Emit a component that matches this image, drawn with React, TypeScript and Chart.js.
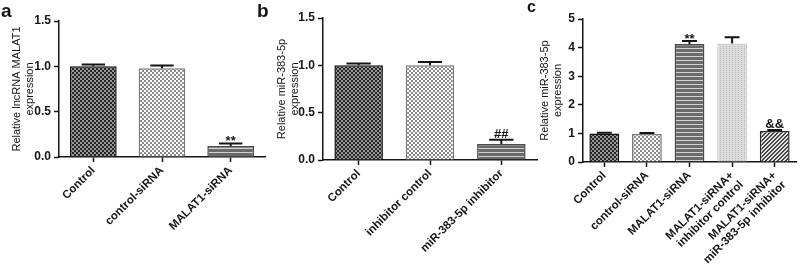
import React, { useEffect, useRef } from 'react';
import { Chart, registerables } from 'chart.js';

Chart.register(...registerables);

// ---------- data ----------
const catsA: (string | string[])[] = ['Control', 'control-siRNA', 'MALAT1-siRNA'];
const valsA = [1.0, 0.98, 0.12];
const errsA = [0.02, 0.03, 0.03];
const marksA = ['', '', '**'];

const catsB: (string | string[])[] = ['Control', 'inhibitor control', 'miR-383-5p inhibitor'];
const valsB = [1.0, 1.0, 0.17];
const errsB = [0.02, 0.035, 0.045];
const marksB = ['', '', '##'];

const catsC: (string | string[])[] = [
  'Control',
  'control-siRNA',
  'MALAT1-siRNA',
  ['MALAT1-siRNA+', 'inhibitor control'],
  ['MALAT1-siRNA+', 'miR-383-5p inhibitor'],
];
const valsC = [1.0, 0.98, 4.13, 4.14, 1.08];
const errsC = [0.02, 0.03, 0.1, 0.22, 0.04];
const marksC = ['', '', '**', '', '&&'];

const ticksAB = [0, 0.5, 1.0, 1.5];
const ticksC = [0, 1, 2, 3, 4, 5];

const titleA = ['Relative lncRNA MALAT1', 'expression'];
const titleB = ['Relative miR-383-5p', 'expression'];
const titleC = ['Relative miR-383-5p', 'expression'];

// ---------- styles ----------
const FONT = '"Liberation Sans", Arial, sans-serif';
const INK = '#151515';

type Kind = 'darkCheck' | 'lightCheck' | 'hStripe' | 'vDot' | 'diag';

function makePattern(kind: Kind): CanvasPattern {
  const c = document.createElement('canvas');
  const g = c.getContext('2d')!;
  if (kind === 'darkCheck') {
    c.width = 4; c.height = 4;
    g.fillStyle = '#969696'; g.fillRect(0, 0, 4, 4);
    g.fillStyle = '#262626'; g.fillRect(0, 0, 2, 2); g.fillRect(2, 2, 2, 2);
  } else if (kind === 'lightCheck') {
    c.width = 4; c.height = 4;
    g.fillStyle = '#ffffff'; g.fillRect(0, 0, 4, 4);
    g.fillStyle = '#8a8a8a'; g.fillRect(0, 0, 2, 2); g.fillRect(2, 2, 2, 2);
  } else if (kind === 'hStripe') {
    c.width = 4; c.height = 4;
    g.fillStyle = '#6a6a6a'; g.fillRect(0, 0, 4, 4);
    g.fillStyle = '#d2d2d2'; g.fillRect(0, 0, 4, 1);
  } else if (kind === 'vDot') {
    c.width = 3; c.height = 2;
    g.fillStyle = '#dcdcdc'; g.fillRect(0, 0, 3, 2);
    g.fillStyle = '#b8b8b8'; g.fillRect(0, 0, 1, 1);
  } else {
    c.width = 4; c.height = 4;
    g.fillStyle = '#e4e4e4'; g.fillRect(0, 0, 4, 4);
    g.fillStyle = '#454545';
    for (let i = 0; i < 4; i++) {
      g.fillRect(i, 3 - i, 1, 1);
      g.fillRect((i + 1) % 4, 3 - i, 1, 1);
    }
  }
  return g.createPattern(c, 'repeat')!;
}

interface PanelCfg {
  labels: (string | string[])[];
  values: number[];
  errs: number[];
  marks: string[];
  ticks: number[];
  decimals: number;
  title: string[];
  fills: Kind[];
  borders: string[];
  letter: string;
  letterSize: number;
  letterX: number;
  letterY: number;
  yWidth: number;
  xHeight: number;
  padTop: number;
  padRight: number;
  titlePad: number;
  barPct: number;
}

function buildConfig(cfg: PanelCfg): any {
  const extras = {
    id: 'extras',
    afterDatasetsDraw(chart: any) {
      const ctx = chart.ctx as CanvasRenderingContext2D;
      const meta = chart.getDatasetMeta(0);
      const ys = chart.scales.y;
      meta.data.forEach((bar: any, i: number) => {
        const v = cfg.values[i];
        const top = ys.getPixelForValue(v + cfg.errs[i]);
        const x = bar.x;
        const half = bar.width * 0.25;
        ctx.save();
        ctx.strokeStyle = INK;
        ctx.lineWidth = 2;
        ctx.beginPath();
        ctx.moveTo(x, bar.y);
        ctx.lineTo(x, top);
        ctx.moveTo(x - half, top);
        ctx.lineTo(x + half, top);
        ctx.stroke();
        const m = cfg.marks[i];
        if (m) {
          ctx.fillStyle = INK;
          ctx.font = `bold 13px ${FONT}`;
          ctx.textAlign = 'center';
          ctx.textBaseline = 'alphabetic';
          const star = m.indexOf('*') >= 0;
          ctx.fillText(m, x, star ? top + 1.5 : top - 2);
        }
        ctx.restore();
      });
      ctx.save();
      ctx.fillStyle = INK;
      ctx.font = `bold ${cfg.letterSize}px ${FONT}`;
      ctx.textAlign = 'left';
      ctx.textBaseline = 'alphabetic';
      ctx.fillText(cfg.letter, cfg.letterX, cfg.letterY);
      ctx.restore();
    },
  };

  const tickMax = cfg.ticks[cfg.ticks.length - 1];
  const step = cfg.ticks[1] - cfg.ticks[0];

  return {
    type: 'bar',
    data: {
      labels: cfg.labels,
      datasets: [
        {
          data: cfg.values,
          backgroundColor: cfg.fills.map(makePattern),
          borderColor: cfg.borders,
          borderWidth: 1.5,
          borderSkipped: 'bottom',
          barPercentage: cfg.barPct,
          categoryPercentage: 1,
        },
      ],
    },
    options: {
      responsive: false,
      animation: false,
      devicePixelRatio: 1,
      layout: { padding: { top: cfg.padTop, right: cfg.padRight, left: 0, bottom: 0 } },
      plugins: { legend: { display: false }, tooltip: { enabled: false }, title: { display: false } },
      scales: {
        x: {
          offset: true,
          afterFit: (s: any) => { s.height = cfg.xHeight; },
          grid: {
            display: true,
            offset: false,
            drawOnChartArea: false,
            drawTicks: true,
            tickLength: 5,
            tickWidth: 1.5,
            color: INK,
          },
          border: { display: true, color: INK, width: 1.5 },
          ticks: {
            autoSkip: false,
            maxRotation: 45,
            minRotation: 45,
            padding: 2,
            color: INK,
            font: { family: FONT, size: 11.5, weight: 'bold', lineHeight: 1.15 },
          },
        },
        y: {
          min: 0,
          max: tickMax,
          afterFit: (s: any) => { s.width = cfg.yWidth; },
          grid: {
            display: true,
            drawOnChartArea: false,
            drawTicks: true,
            tickLength: 5,
            tickWidth: 1.5,
            color: INK,
          },
          border: { display: true, color: INK, width: 1.5 },
          ticks: {
            stepSize: step,
            padding: 3,
            color: INK,
            font: { family: FONT, size: 12, weight: 'bold' },
            callback: (v: any) => Number(v).toFixed(cfg.decimals),
          },
          title: {
            display: true,
            text: cfg.title,
            color: INK,
            padding: { top: cfg.titlePad, bottom: 0 },
            font: { family: FONT, size: 11, weight: 'normal', lineHeight: 1.15 },
          },
        },
      },
    },
    plugins: [extras],
  };
}

function Panel({ left, width, cfg }: { left: number; width: number; cfg: PanelCfg }) {
  const ref = useRef<HTMLCanvasElement>(null);
  useEffect(() => {
    const chart = new Chart(ref.current!, buildConfig(cfg));
    return () => chart.destroy();
  }, []);
  return (
    <canvas
      ref={ref}
      width={width}
      height={271}
      style={{ position: 'absolute', left, top: 0, width, height: 271 }}
    />
  );
}

const cfgA: PanelCfg = {
  labels: catsA, values: valsA, errs: errsA, marks: marksA,
  ticks: ticksAB, decimals: 1, title: titleA,
  fills: ['darkCheck', 'lightCheck', 'hStripe'],
  borders: ['#111111', '#7a7a7a', '#4a4a4a'],
  letter: 'a', letterSize: 19, letterX: 1, letterY: 17,
  yWidth: 59, xHeight: 114, padTop: 21, padRight: 7, titlePad: 11, barPct: 0.68,
};

const cfgB: PanelCfg = {
  labels: catsB, values: valsB, errs: errsB, marks: marksB,
  ticks: ticksAB, decimals: 1, title: titleB,
  fills: ['darkCheck', 'lightCheck', 'hStripe'],
  borders: ['#111111', '#7a7a7a', '#4a4a4a'],
  letter: 'b', letterSize: 19, letterX: 2, letterY: 16.5,
  yWidth: 68, xHeight: 111, padTop: 18, padRight: 3, titlePad: 20.5, barPct: 0.68,
};

const cfgC: PanelCfg = {
  labels: catsC, values: valsC, errs: errsC, marks: marksC,
  ticks: ticksC, decimals: 0, title: titleC,
  fills: ['darkCheck', 'lightCheck', 'hStripe', 'vDot', 'diag'],
  borders: ['#111111', '#7a7a7a', '#4a4a4a', '#d0d0d0', '#2a2a2a'],
  letter: 'c', letterSize: 16, letterX: 5, letterY: 12,
  yWidth: 61, xHeight: 109, padTop: 19, padRight: 4, titlePad: 17, barPct: 0.7,
};

export default function App() {
  return (
    <div
      style={{
        position: 'fixed',
        left: 0,
        top: 0,
        width: 800,
        height: 271,
        background: '#ffffff',
        overflow: 'hidden',
      }}
    >
      <Panel left={0} width={272} cfg={cfgA} />
      <Panel left={255} width={285} cfg={cfgB} />
      <Panel left={522} width={278} cfg={cfgC} />
    </div>
  );
}
